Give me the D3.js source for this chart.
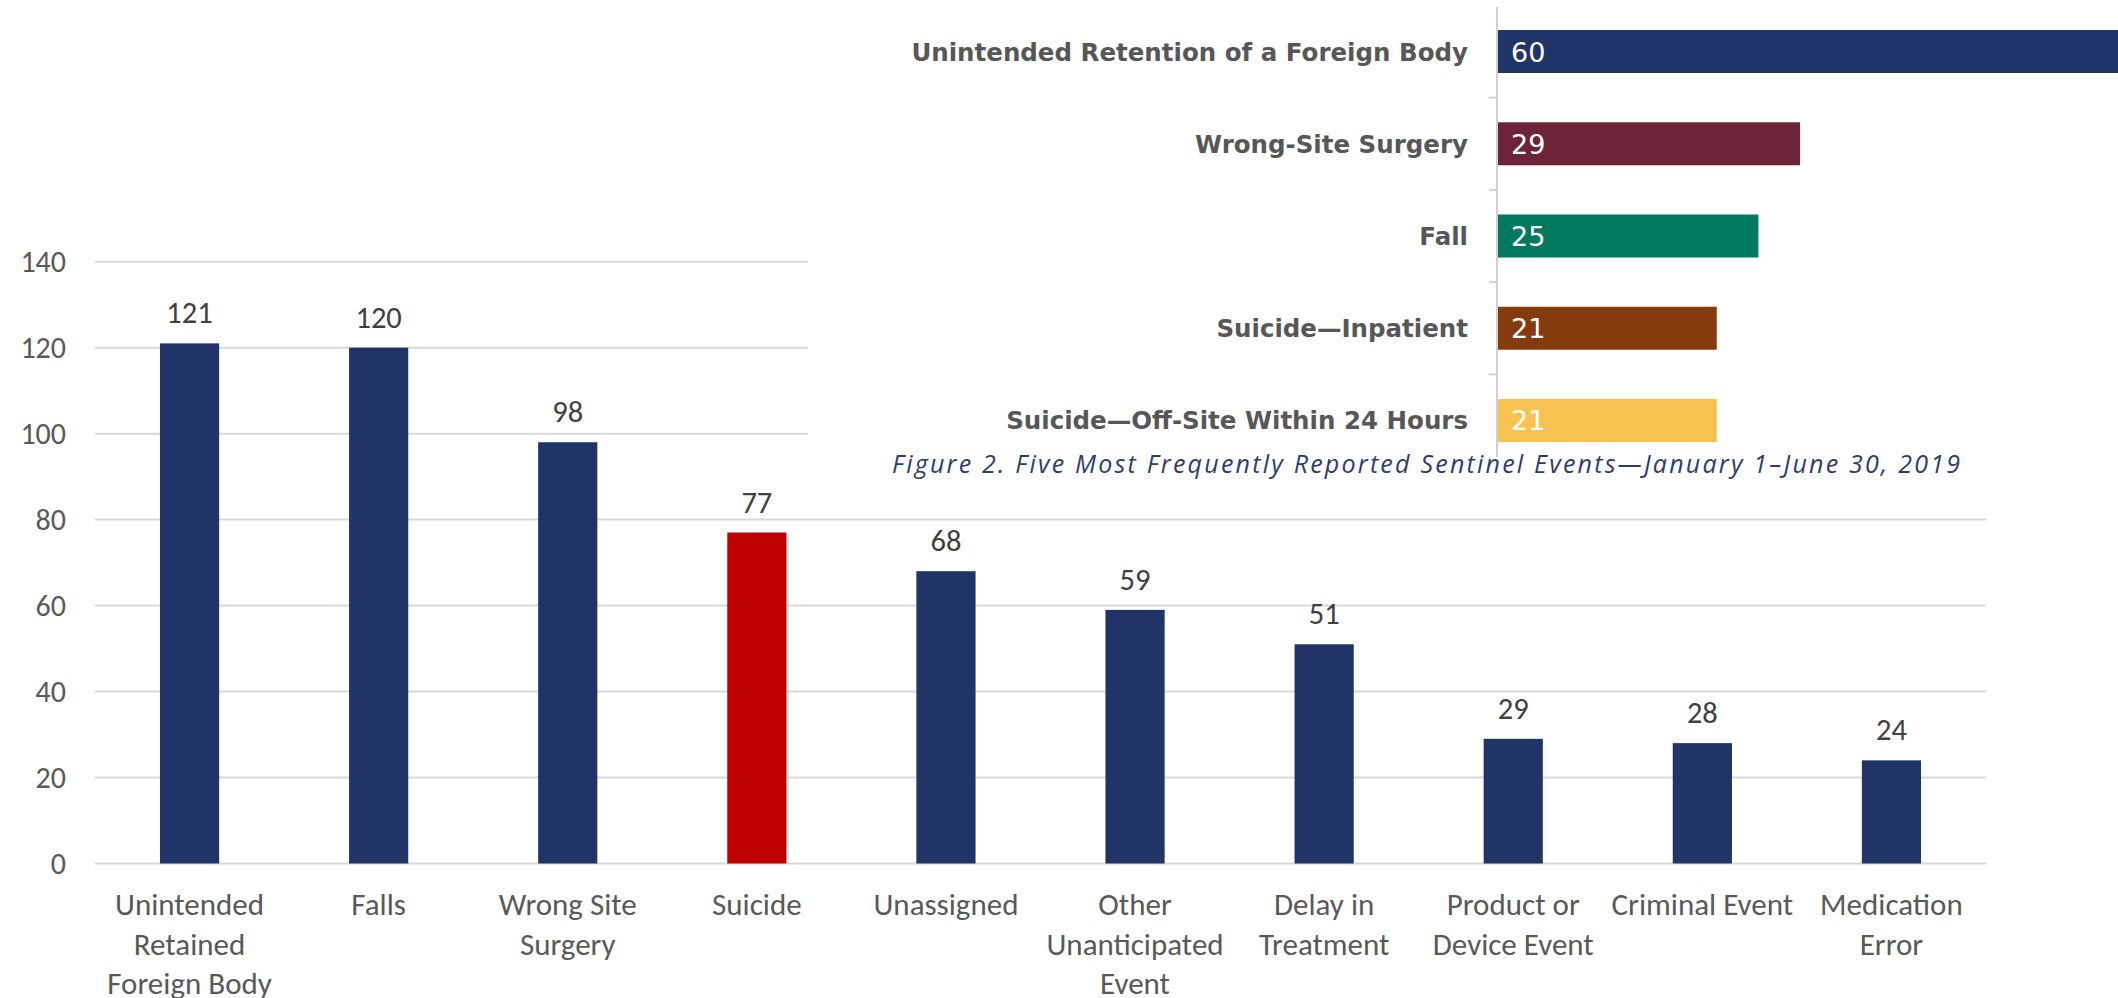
<!DOCTYPE html>
<html>
<head>
<meta charset="utf-8">
<script src="https://cdn.jsdelivr.net/npm/d3@7/dist/d3.min.js"></script>
<style>
  html, body { margin: 0; padding: 0; background: #fff; }
  svg { display: block; }
</style>
</head>
<body>
<svg id="chart" width="2118" height="998"></svg>
<script>
// ---- Main chart data ----
const categories = [
  ["Unintended", "Retained", "Foreign Body"],
  ["Falls"],
  ["Wrong Site", "Surgery"],
  ["Suicide"],
  ["Unassigned"],
  ["Other", "Unanticipated", "Event"],
  ["Delay in", "Treatment"],
  ["Product or", "Device Event"],
  ["Criminal Event"],
  ["Medication", "Error"]
];
const counts = [121, 120, 98, 77, 68, 59, 51, 29, 28, 24];
const highlighted = ["Suicide"];
const yTicks = [0, 20, 40, 60, 80, 100, 120, 140];

// ---- Inset chart data ----
const insetEvents = [
  "Unintended Retention of a Foreign Body",
  "Wrong-Site Surgery",
  "Fall",
  "Suicide\u2014Inpatient",
  "Suicide\u2014Off-Site Within 24 Hours"
];
const insetCounts = [60, 29, 25, 21, 21];
const insetColors = ["#1f3468", "#6d2439", "#007a5e", "#853b0d", "#f7c24f"];
const insetCaption = "Figure 2. Five Most Frequently Reported Sentinel Events\u2014January 1\u2013June 30, 2019";

const svg = d3.select("#chart");
const keys = categories.map(c => c.join(" "));

const mainFont = "Carlito, Lato, 'Open Sans', sans-serif";

const x = d3.scaleBand().domain(keys).range([95, 1986])
  .paddingInner(0.687).paddingOuter(0.3435);
const y = d3.scaleLinear().domain([0, 140]).range([863.5, 261.7]);

// gridlines
svg.append("g").selectAll("line").data(yTicks).join("line")
  .attr("x1", 95).attr("x2", 1986)
  .attr("y1", d => y(d)).attr("y2", d => y(d))
  .attr("stroke", "#d9d9d9").attr("stroke-width", 2);

// y tick labels
svg.append("g").selectAll("text").data(yTicks).join("text")
  .attr("x", 66).attr("y", d => y(d) + 10)
  .attr("text-anchor", "end")
  .attr("font-family", mainFont).attr("font-size", 30)
  .attr("fill", "#595959")
  .text(d => d);

// bars
svg.append("g").selectAll("rect").data(keys).join("rect")
  .attr("x", d => x(d)).attr("width", x.bandwidth())
  .attr("y", (d, i) => y(counts[i]))
  .attr("height", (d, i) => y(0) - y(counts[i]))
  .attr("fill", d => highlighted.includes(d) ? "#c00000" : "#203467");

// value labels
svg.append("g").selectAll("text").data(keys).join("text")
  .attr("x", d => x(d) + x.bandwidth() / 2)
  .attr("y", (d, i) => y(counts[i]) - 20)
  .attr("text-anchor", "middle")
  .attr("font-family", mainFont).attr("font-size", 30.5)
  .attr("fill", "#404040")
  .text((d, i) => counts[i]);

// category labels
const catG = svg.append("g").selectAll("text").data(categories).join("text")
  .attr("text-anchor", "middle")
  .attr("font-family", mainFont).attr("font-size", 31)
  .attr("fill", "#595959");
catG.each(function(lines, i) {
  const cx = x(keys[i]) + x.bandwidth() / 2;
  d3.select(this).selectAll("tspan").data(lines).join("tspan")
    .attr("x", cx).attr("y", (l, j) => 915 + j * 39.5)
    .text(l => l);
});

// ---- Inset picture ----
const inset = svg.append("g");
inset.append("rect").attr("x", 808).attr("y", 0)
  .attr("width", 2118 - 808).attr("height", 500).attr("fill", "#fff");

const ix = d3.scaleLinear().domain([0, 60]).range([1498, 2123]);
const iy = d3.scaleBand().domain(insetEvents).range([5.4, 466.6])
  .paddingInner(0.534).paddingOuter(0.267);

inset.append("g").selectAll("rect").data(insetEvents).join("rect")
  .attr("x", ix(0)).attr("y", d => iy(d))
  .attr("width", (d, i) => ix(insetCounts[i]) - ix(0))
  .attr("height", iy.bandwidth())
  .attr("fill", (d, i) => insetColors[i]);

// axis line
inset.append("line").attr("x1", 1497).attr("x2", 1497)
  .attr("y1", 7).attr("y2", 457)
  .attr("stroke", "#d0d0d0").attr("stroke-width", 2);
// tick marks between categories
inset.append("g").selectAll("line").data(insetEvents.slice(1)).join("line")
  .attr("x1", 1489).attr("x2", 1497)
  .attr("y1", d => iy(d) - iy.step() * iy.paddingInner() / 2)
  .attr("y2", d => iy(d) - iy.step() * iy.paddingInner() / 2)
  .attr("stroke", "#d0d0d0").attr("stroke-width", 2);

const insetFont = "'DejaVu Sans', 'Open Sans', sans-serif";
inset.append("g").selectAll("text").data(insetEvents).join("text")
  .attr("x", 1468).attr("y", d => iy(d) + iy.bandwidth() / 2 + 9)
  .attr("text-anchor", "end")
  .attr("font-family", insetFont).attr("font-size", 24.5).attr("font-weight", 600)
  .attr("fill", "#575757")
  .text(d => d);

inset.append("g").selectAll("text").data(insetEvents).join("text")
  .attr("x", 1511).attr("y", d => iy(d) + iy.bandwidth() / 2 + 10)
  .attr("font-family", insetFont).attr("font-size", 27)
  .attr("fill", "#fff")
  .text((d, i) => insetCounts[i]);

inset.append("text").attr("x", 892).attr("y", 473)
  .attr("font-family", "'Open Sans', Lato, sans-serif")
  .attr("font-style", "italic").attr("font-size", 25)
  .attr("textLength", 1068).attr("lengthAdjust", "spacing")
  .attr("fill", "#2c3d72")
  .text(insetCaption);
</script>
</body>
</html>
